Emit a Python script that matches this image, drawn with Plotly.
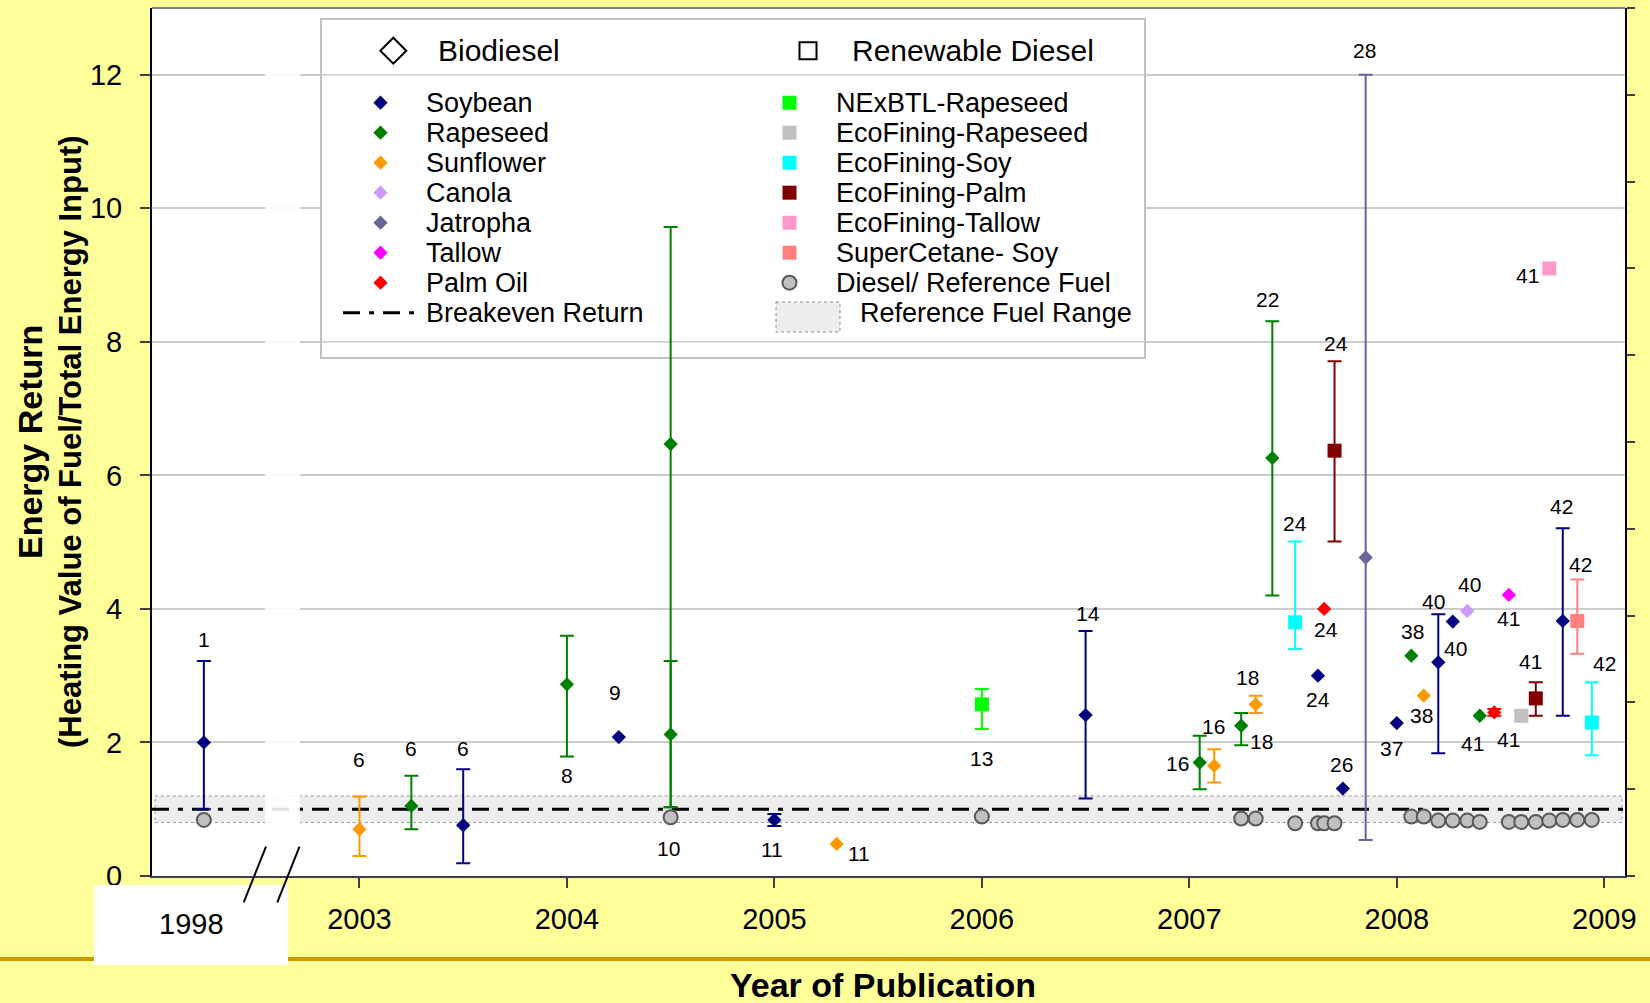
import plotly.graph_objects as go

FONT = "Arial, 'Liberation Sans', Helvetica, sans-serif"

# ---------------- data ----------------
X_TICK_VALS = [2003, 2004, 2005, 2006, 2007, 2008, 2009]
X_TICK_TEXT = ["2003", "2004", "2005", "2006", "2007", "2008", "2009"]
BROKEN_YEAR_TEXT = "1998"          # shown at the compressed position left of the axis break
BROKEN_YEAR_POS = 2002.19
Y_TICK_VALS = [0, 2, 4, 6, 8, 10, 12]
Y_TICK_TEXT = ["0", "2", "4", "6", "8", "10", "12"]

BREAKEVEN = 1.0
REF_RANGE_LOW = 0.8
REF_RANGE_HIGH = 1.2

# ---- Biodiesel (diamonds) ----
SOYBEAN_X = [2002.25, 2003.50, 2004.25, 2005.00, 2006.50, 2007.62, 2007.74, 2008.00, 2008.20, 2008.27, 2008.80]
SOYBEAN_Y = [2.00, 0.76, 2.08, 0.84, 2.41, 3.00, 1.31, 2.29, 3.20, 3.81, 3.82]
SOYBEAN_LO = [1.00, 0.19, None, 0.75, 1.16, None, None, None, 1.84, None, 2.40]
SOYBEAN_HI = [3.22, 1.60, None, 0.93, 3.67, None, None, None, 3.92, None, 5.21]

RAPESEED_X = [2003.25, 2004.00, 2004.50, 2004.50, 2007.05, 2007.25, 2007.40, 2008.07, 2008.40]
RAPESEED_Y = [1.05, 2.87, 6.47, 2.12, 1.70, 2.25, 6.26, 3.30, 2.40]
RAPESEED_LO = [0.70, 1.79, 1.03, 1.03, 1.30, 1.96, 4.20, None, None]
RAPESEED_HI = [1.50, 3.60, 9.72, 3.22, 2.10, 2.44, 8.31, None, None]

SUNFLOWER_X = [2003.00, 2005.30, 2007.12, 2007.32, 2008.13]
SUNFLOWER_Y = [0.70, 0.48, 1.65, 2.57, 2.70]
SUNFLOWER_LO = [0.30, None, 1.40, 2.44, None]
SUNFLOWER_HI = [1.19, None, 1.90, 2.70, None]

CANOLA_X = [2008.34]
CANOLA_Y = [3.97]
CANOLA_LO = [None]
CANOLA_HI = [None]

JATROPHA_X = [2007.85]
JATROPHA_Y = [4.77]
JATROPHA_LO = [0.54]
JATROPHA_HI = [12.00]

TALLOW_X = [2008.54]
TALLOW_Y = [4.21]
TALLOW_LO = [None]
TALLOW_HI = [None]

PALM_X = [2007.65, 2008.47]
PALM_Y = [4.00, 2.45]
PALM_LO = [None, 2.40]
PALM_HI = [None, 2.50]

# ---- Renewable diesel (squares) ----
NEXBTL_X = [2006.00]
NEXBTL_Y = [2.57]
NEXBTL_LO = [2.20]
NEXBTL_HI = [2.80]

ECO_RAPE_X = [2008.60]
ECO_RAPE_Y = [2.40]
ECO_RAPE_LO = [None]
ECO_RAPE_HI = [None]

ECO_SOY_X = [2007.51, 2008.94]
ECO_SOY_Y = [3.80, 2.30]
ECO_SOY_LO = [3.40, 1.81]
ECO_SOY_HI = [5.01, 2.90]

ECO_PALM_X = [2007.70, 2008.67]
ECO_PALM_Y = [6.37, 2.66]
ECO_PALM_LO = [5.01, 2.40]
ECO_PALM_HI = [7.71, 2.90]

ECO_TALLOW_X = [2008.735]
ECO_TALLOW_Y = [9.10]
ECO_TALLOW_LO = [None]
ECO_TALLOW_HI = [None]

SUPERCETANE_X = [2008.87]
SUPERCETANE_Y = [3.82]
SUPERCETANE_LO = [3.33]
SUPERCETANE_HI = [4.44]

# ---- Diesel / reference fuel (circles) ----
DIESEL_X = [2002.25, 2004.50, 2006.00, 2007.25, 2007.32, 2007.51, 2007.62, 2007.65, 2007.70,
            2008.07, 2008.13, 2008.20, 2008.27, 2008.34, 2008.40, 2008.54, 2008.60, 2008.67,
            2008.735, 2008.80, 2008.87, 2008.94]
DIESEL_Y = [0.84, 0.88, 0.89, 0.86, 0.86, 0.79, 0.79, 0.79, 0.79,
            0.89, 0.89, 0.83, 0.83, 0.83, 0.81, 0.81, 0.81, 0.81,
            0.83, 0.84, 0.84, 0.84]

# ---- reference-number labels ----
LABEL_TEXT = ["1", "6", "6", "6", "8", "9", "10", "11", "11", "13", "14", "16", "16", "18", "18",
              "22", "24", "24", "24", "24", "26", "28", "37", "38", "38", "40", "40", "40",
              "41", "41", "41", "41", "41", "42", "42", "42"]
LABEL_X = [2002.25, 2003.00, 2003.25, 2003.50, 2004.00, 2004.23, 2004.49, 2004.99, 2005.41, 2006.00,
           2006.51, 2006.945, 2007.115, 2007.28, 2007.35,
           2007.376, 2007.511, 2007.707, 2007.659, 2007.618, 2007.733, 2007.842, 2007.976, 2008.077,
           2008.117, 2008.178, 2008.285, 2008.349,
           2008.539, 2008.367, 2008.539, 2008.643, 2008.631, 2008.796, 2008.884, 2009.00]
LABEL_Y = [3.54, 1.75, 1.91, 1.91, 1.51, 2.745, 0.415, 0.40, 0.34, 1.76,
           3.93, 1.69, 2.24, 2.97, 2.01,
           8.64, 5.28, 7.98, 3.69, 2.65, 1.67, 12.37, 1.91, 3.66,
           2.40, 4.11, 3.41, 4.36,
           3.86, 1.99, 2.04, 3.21, 8.99, 5.535, 4.66, 3.19]

# ---- legend content ----
BIO_HEADER = "Biodiesel"
RD_HEADER = "Renewable Diesel"
BIO_NAMES = ["Soybean", "Rapeseed", "Sunflower", "Canola", "Jatropha", "Tallow", "Palm Oil"]
RD_NAMES = ["NExBTL-Rapeseed", "EcoFining-Rapeseed", "EcoFining-Soy", "EcoFining-Palm",
            "EcoFining-Tallow", "SuperCetane- Soy", "Diesel/ Reference Fuel"]
BREAKEVEN_NAME = "Breakeven Return"
REF_RANGE_NAME = "Reference Fuel Range"

X_AXIS_TITLE = "Year of Publication"
Y_AXIS_TITLE_1 = "Energy Return"
Y_AXIS_TITLE_2 = "(Heating Value of Fuel/Total Energy Input)"

# ---------------- styles ----------------
C_SOY = "#000080"
C_RAPE = "#008000"
C_SUN = "#FF9900"
C_CANOLA = "#CC99FF"
C_JATROPHA = "#666699"
C_TALLOW = "#FF00FF"
C_PALM = "#FF0000"
C_NEXBTL = "#00FF00"
C_ECO_RAPE = "#C0C0C0"
C_ECO_SOY = "#00FFFF"
C_ECO_PALM = "#800000"
C_ECO_TALLOW = "#FF99CC"
C_SUPER = "#FF8080"
C_DIESEL = "#C0C0C0"
C_DIESEL_LINE = "#595959"
GRID = "#CCCCCC"
BG = "#FFFF99"
GOLD = "#CC9900"
DASHDOT = "17px,9px,5px,9px"

W, H = 1650, 1003
ML, MR, MT, MB = 152, 25, 8, 127
X_RANGE = [2002.0, 2009.10]
Y_RANGE = [0, 13]
PW = W - ML - MR
PH = H - MT - MB


def px_x(px):  # pixel -> x data
    return X_RANGE[0] + (px - ML) / PW * (X_RANGE[1] - X_RANGE[0])


def px_y(py):  # pixel -> y data
    return Y_RANGE[0] + (MT + PH - py) / PH * (Y_RANGE[1] - Y_RANGE[0])


def paper_x(px):
    return (px - ML) / PW


def paper_y(py):
    return (MT + PH - py) / PH


fig = go.Figure()


def add_series(xs, ys, lo, hi, color, symbol, size, name):
    ie = [i for i in range(len(xs)) if lo[i] is not None]
    ine = [i for i in range(len(xs)) if lo[i] is None]
    if ie:
        fig.add_trace(go.Scatter(
            x=[xs[i] for i in ie], y=[ys[i] for i in ie], mode="markers", name=name,
            marker=dict(symbol=symbol, size=size, color=color, opacity=1, line=dict(width=0)),
            error_y=dict(type="data", symmetric=False,
                         array=[hi[i] - ys[i] for i in ie],
                         arrayminus=[ys[i] - lo[i] for i in ie],
                         color=color, thickness=2, width=7),
            showlegend=False, hoverinfo="x+y"))
    if ine:
        fig.add_trace(go.Scatter(
            x=[xs[i] for i in ine], y=[ys[i] for i in ine], mode="markers", name=name,
            marker=dict(symbol=symbol, size=size, color=color, opacity=1, line=dict(width=0)),
            showlegend=False, hoverinfo="x+y"))


DIA = 11
SQ = 14
SERIES = [
    (SOYBEAN_X, SOYBEAN_Y, SOYBEAN_LO, SOYBEAN_HI, C_SOY, "diamond", DIA, "Soybean"),
    (RAPESEED_X, RAPESEED_Y, RAPESEED_LO, RAPESEED_HI, C_RAPE, "diamond", DIA, "Rapeseed"),
    (SUNFLOWER_X, SUNFLOWER_Y, SUNFLOWER_LO, SUNFLOWER_HI, C_SUN, "diamond", DIA, "Sunflower"),
    (CANOLA_X, CANOLA_Y, CANOLA_LO, CANOLA_HI, C_CANOLA, "diamond", DIA, "Canola"),
    (JATROPHA_X, JATROPHA_Y, JATROPHA_LO, JATROPHA_HI, C_JATROPHA, "diamond", DIA, "Jatropha"),
    (TALLOW_X, TALLOW_Y, TALLOW_LO, TALLOW_HI, C_TALLOW, "diamond", DIA, "Tallow"),
    (PALM_X, PALM_Y, PALM_LO, PALM_HI, C_PALM, "diamond", DIA, "Palm Oil"),
    (NEXBTL_X, NEXBTL_Y, NEXBTL_LO, NEXBTL_HI, C_NEXBTL, "square", SQ, "NExBTL-Rapeseed"),
    (ECO_RAPE_X, ECO_RAPE_Y, ECO_RAPE_LO, ECO_RAPE_HI, C_ECO_RAPE, "square", SQ, "EcoFining-Rapeseed"),
    (ECO_SOY_X, ECO_SOY_Y, ECO_SOY_LO, ECO_SOY_HI, C_ECO_SOY, "square", SQ, "EcoFining-Soy"),
    (ECO_PALM_X, ECO_PALM_Y, ECO_PALM_LO, ECO_PALM_HI, C_ECO_PALM, "square", SQ, "EcoFining-Palm"),
    (ECO_TALLOW_X, ECO_TALLOW_Y, ECO_TALLOW_LO, ECO_TALLOW_HI, C_ECO_TALLOW, "square", SQ, "EcoFining-Tallow"),
    (SUPERCETANE_X, SUPERCETANE_Y, SUPERCETANE_LO, SUPERCETANE_HI, C_SUPER, "square", SQ, "SuperCetane- Soy"),
]

# diesel reference circles
fig.add_trace(go.Scatter(
    x=DIESEL_X, y=DIESEL_Y, mode="markers", name="Diesel/ Reference Fuel",
    marker=dict(symbol="circle", size=14, color=C_DIESEL, opacity=1,
                line=dict(color=C_DIESEL_LINE, width=2)),
    showlegend=False, hoverinfo="x+y"))

for s in SERIES:
    add_series(*s)

# ---------------- hand-built legend ----------------
LEG_BOX = (321, 19, 1145, 358)          # left, top, right, bottom (pixels)
LEG_L_MARK, LEG_L_TEXT = 380.5, 424
LEG_R_MARK, LEG_R_TEXT = 789.5, 833.5
LEG_ROW0, LEG_STEP = 102.7, 30
HEAD_Y = 50.7

bio_styles = [(s[4], s[5], s[6]) for s in SERIES[:7]]
rd_styles = [(s[4], s[5], s[6]) for s in SERIES[7:]]
for i, (c, sym, sz) in enumerate(bio_styles):
    fig.add_trace(go.Scatter(x=[px_x(LEG_L_MARK)], y=[px_y(LEG_ROW0 + i * LEG_STEP)], mode="markers",
                             hoverinfo="skip", showlegend=False,
                             marker=dict(symbol=sym, size=sz, color=c, opacity=1, line=dict(width=0))))
for i, (c, sym, sz) in enumerate(rd_styles):
    fig.add_trace(go.Scatter(x=[px_x(LEG_R_MARK)], y=[px_y(LEG_ROW0 + i * LEG_STEP)], mode="markers",
                             hoverinfo="skip", showlegend=False,
                             marker=dict(symbol=sym, size=sz, color=c, opacity=1, line=dict(width=0))))
fig.add_trace(go.Scatter(x=[px_x(LEG_R_MARK)], y=[px_y(LEG_ROW0 + 6 * LEG_STEP)], mode="markers",
                         hoverinfo="skip", showlegend=False,
                         marker=dict(symbol="circle", size=14, color=C_DIESEL, opacity=1,
                                     line=dict(color=C_DIESEL_LINE, width=2))))
# header symbols
fig.add_trace(go.Scatter(x=[px_x(393.3)], y=[px_y(HEAD_Y)], mode="markers", hoverinfo="skip",
                         showlegend=False,
                         marker=dict(symbol="diamond-open", size=20, color="black", line=dict(width=2))))
fig.add_trace(go.Scatter(x=[px_x(808)], y=[px_y(HEAD_Y)], mode="markers", hoverinfo="skip",
                         showlegend=False,
                         marker=dict(symbol="square-open", size=17, color="black", line=dict(width=2))))

# dummy trace for secondary right axis
fig.add_trace(go.Scatter(x=[X_RANGE[0]], y=[None], yaxis="y2", mode="markers",
                         showlegend=False, hoverinfo="skip"))

shapes = []
# legend box (under data)
shapes.append(dict(type="rect", xref="x", yref="y", layer="between",
                   x0=px_x(LEG_BOX[0]), x1=px_x(LEG_BOX[2]), y0=px_y(LEG_BOX[1]), y1=px_y(LEG_BOX[3]),
                   fillcolor="white", line=dict(color="#C0C0C0", width=2)))
# gridlines that show through the legend
for gy in (12, 8):
    shapes.append(dict(type="line", xref="x", yref="y", layer="between",
                       x0=px_x(LEG_BOX[0]), x1=px_x(LEG_BOX[2]), y0=gy, y1=gy,
                       line=dict(color=GRID, width=1.5)))
# reference fuel range band
shapes.append(dict(type="rect", xref="x", yref="y", layer="between",
                   x0=px_x(ML + 3), x1=px_x(W - MR - 3), y0=REF_RANGE_LOW, y1=REF_RANGE_HIGH,
                   fillcolor="#EDEDED", line=dict(color="#9A9A9A", width=1, dash="dot")))
# breakeven line
shapes.append(dict(type="line", xref="x", yref="y", layer="between",
                   x0=X_RANGE[0], x1=X_RANGE[1], y0=BREAKEVEN, y1=BREAKEVEN,
                   line=dict(color="black", width=3, dash=DASHDOT)))
# legend samples
shapes.append(dict(type="line", xref="x", yref="y", layer="above",
                   x0=px_x(343), x1=px_x(415.5), y0=px_y(LEG_ROW0 + 7 * LEG_STEP), y1=px_y(LEG_ROW0 + 7 * LEG_STEP),
                   line=dict(color="black", width=3, dash=DASHDOT)))
shapes.append(dict(type="rect", xref="x", yref="y", layer="above",
                   x0=px_x(776), x1=px_x(840), y0=px_y(302), y1=px_y(332),
                   fillcolor="#EDEDED", line=dict(color="#8A8A8A", width=1, dash="dot")))
# axis-break white band
shapes.append(dict(type="rect", xref="paper", yref="paper", layer="above",
                   x0=paper_x(265), x1=paper_x(300), y0=paper_y(874), y1=paper_y(10),
                   fillcolor="rgba(255,255,255,0.88)", line=dict(width=0)))
# top border
shapes.append(dict(type="line", xref="paper", yref="paper", layer="above",
                   x0=0, x1=1, y0=1, y1=1, line=dict(color="#808080", width=2)))
# gold separator line
shapes.append(dict(type="line", xref="paper", yref="paper", layer="above",
                   x0=paper_x(0), x1=paper_x(W), y0=paper_y(959), y1=paper_y(959),
                   line=dict(color=GOLD, width=4)))
# white box for broken-axis year
shapes.append(dict(type="rect", xref="paper", yref="paper", layer="above",
                   x0=paper_x(94), x1=paper_x(288), y0=paper_y(965), y1=paper_y(885),
                   fillcolor="white", line=dict(width=0)))
# break marks
for (xa, xb) in ((243.7, 266.0), (277.3, 299.5)):
    shapes.append(dict(type="line", xref="paper", yref="paper", layer="above",
                       x0=paper_x(xa), x1=paper_x(xb), y0=paper_y(902.3), y1=paper_y(846.7),
                       line=dict(color="black", width=2)))

annotations = []
for t, x, y in zip(LABEL_TEXT, LABEL_X, LABEL_Y):
    annotations.append(dict(x=x, y=y, xref="x", yref="y", text=t, showarrow=False,
                            font=dict(size=21, color="black", family=FONT),
                            xanchor="center", yanchor="middle"))
# legend texts
annotations.append(dict(x=px_x(435.5), y=px_y(HEAD_Y), xref="x", yref="y", text=BIO_HEADER,
                        showarrow=False, xanchor="left", yanchor="middle",
                        font=dict(size=30, color="black", family=FONT)))
annotations.append(dict(x=px_x(850), y=px_y(HEAD_Y), xref="x", yref="y", text=RD_HEADER,
                        showarrow=False, xanchor="left", yanchor="middle",
                        font=dict(size=30, color="black", family=FONT)))
for i, n in enumerate(BIO_NAMES + [BREAKEVEN_NAME]):
    annotations.append(dict(x=px_x(LEG_L_TEXT), y=px_y(LEG_ROW0 + i * LEG_STEP), xref="x", yref="y",
                            text=n, showarrow=False, xanchor="left", yanchor="middle",
                            font=dict(size=27, color="black", family=FONT)))
for i, n in enumerate(RD_NAMES):
    annotations.append(dict(x=px_x(LEG_R_TEXT), y=px_y(LEG_ROW0 + i * LEG_STEP), xref="x", yref="y",
                            text=n, showarrow=False, xanchor="left", yanchor="middle",
                            font=dict(size=27, color="black", family=FONT)))
annotations.append(dict(x=px_x(858), y=px_y(LEG_ROW0 + 7 * LEG_STEP), xref="x", yref="y",
                        text=REF_RANGE_NAME, showarrow=False, xanchor="left", yanchor="middle",
                        font=dict(size=27, color="black", family=FONT)))
# broken-axis year label
annotations.append(dict(x=BROKEN_YEAR_POS, y=paper_y(924), xref="x", yref="paper", text=BROKEN_YEAR_TEXT,
                        showarrow=False, xanchor="center", yanchor="middle",
                        font=dict(size=29, color="black", family=FONT)))
# axis titles
annotations.append(dict(x=paper_x(30), y=0.5, xref="paper", yref="paper", text="<b>%s</b>" % Y_AXIS_TITLE_1,
                        showarrow=False, textangle=-90, xanchor="center", yanchor="middle",
                        font=dict(size=34, color="black", family=FONT)))
annotations.append(dict(x=paper_x(70), y=0.5, xref="paper", yref="paper", text="<b>%s</b>" % Y_AXIS_TITLE_2,
                        showarrow=False, textangle=-90, xanchor="center", yanchor="middle",
                        font=dict(size=31, color="black", family=FONT)))
annotations.append(dict(x=paper_x(883), y=paper_y(985), xref="paper", yref="paper", text="<b>%s</b>" % X_AXIS_TITLE,
                        showarrow=False, xanchor="center", yanchor="middle",
                        font=dict(size=34, color="black", family=FONT)))

fig.update_layout(
    width=W, height=H, autosize=False,
    margin=dict(l=ML, r=MR, t=MT, b=MB, pad=0),
    paper_bgcolor=BG, plot_bgcolor="white",
    font=dict(family=FONT, color="black"),
    showlegend=False,
    xaxis=dict(range=X_RANGE, tickvals=X_TICK_VALS, ticktext=X_TICK_TEXT,
               ticks="outside", ticklen=10, tickwidth=2, tickcolor="#404040",
               showline=True, linecolor="#404040", linewidth=2,
               showgrid=False, zeroline=False, tickfont=dict(size=29, color="black"),
               ticklabelstandoff=6),
    yaxis=dict(range=Y_RANGE, tickvals=Y_TICK_VALS, ticktext=Y_TICK_TEXT,
               ticks="outside", ticklen=10, tickwidth=2, tickcolor="#404040",
               showline=True, linecolor="black", linewidth=2,
               showgrid=True, gridcolor=GRID, gridwidth=1.5, zeroline=False,
               tickfont=dict(size=29, color="black"), ticklabelstandoff=12),
    yaxis2=dict(overlaying="y", side="right", range=[0, 10], dtick=1,
                ticks="outside", ticklen=8, tickwidth=2, tickcolor="#404040",
                showline=True, linecolor="black", linewidth=2,
                showticklabels=False, showgrid=False, zeroline=False),
    shapes=shapes, annotations=annotations,
)

fig.write_html("out.html", config={"displayModeBar": False},
               post_script="document.body.style.margin='0';document.body.style.overflow='hidden';")
